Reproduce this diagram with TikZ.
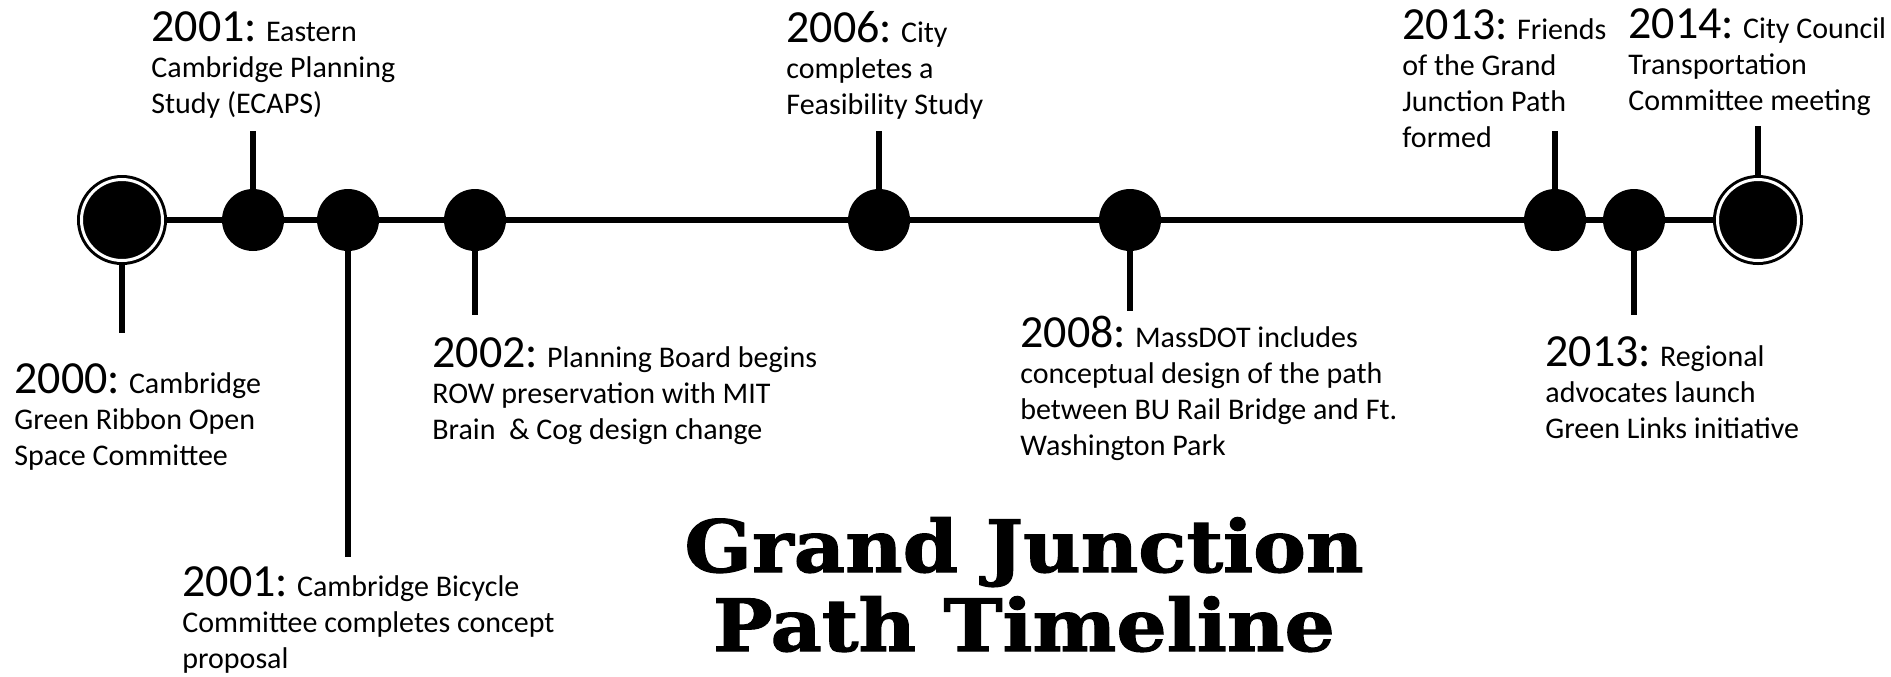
\documentclass[tikz,border=0pt]{standalone}
\usepackage{fontspec}
\setmainfont{Carlito}
\newfontfamily\titlefont[FakeStretch=1.1,FakeBold=1.6]{DejaVu Serif}
\newcommand{\yr}[1]{{\fontsize{23}{18}\selectfont #1}}

\begin{document}
\begin{tikzpicture}[x=0.5pt,y=-0.5pt,
    dot/.style={circle,fill=black,inner sep=0pt,outer sep=0pt,minimum size=31pt},
    bigdot/.style={circle,fill=black,draw=black,double=white,double distance=1.5pt,line width=1.5pt,inner sep=0pt,outer sep=2.25pt,minimum size=40.5pt},
    stem/.style={line width=3pt},
    event/.style={anchor=base west,align=left,inner sep=0pt,font=\fontsize{15}{18}\selectfont},
    title/.style={anchor=base,align=center,inner sep=0pt,font=\titlefont\bfseries\fontsize{36}{39.5}\selectfont}]
  \useasboundingbox (0,0) rectangle (1891,676);

  % events on the line
  \node[bigdot] (e2000) at (122,220) {};
  \node[dot] (e2001a) at (253,220) {};
  \node[dot] (e2001b) at (348,220) {};
  \node[dot] (e2002) at (475,220) {};
  \node[dot] (e2006) at (879,220) {};
  \node[dot] (e2008) at (1130,220) {};
  \node[dot] (e2013a) at (1555,220) {};
  \node[dot] (e2013b) at (1634,220) {};
  \node[bigdot] (e2014) at (1758,220) {};
  \draw[stem] (e2000) -- (e2001a) -- (e2001b) -- (e2002) -- (e2006) -- (e2008) -- (e2013a) -- (e2013b) -- (e2014);

  % stems
  \coordinate (s2000) at (122,333);
  \coordinate (s2001a) at (253,131);
  \coordinate (s2001b) at (348,557);
  \coordinate (s2002) at (475,315);
  \coordinate (s2006) at (879,131);
  \coordinate (s2008) at (1130,311);
  \coordinate (s2013a) at (1555,131);
  \coordinate (s2013b) at (1634,315);
  \coordinate (s2014) at (1758,126);
  \foreach \e in {2000,2001a,2001b,2002,2006,2008,2013a,2013b,2014}
    \draw[stem] (e\e) -- (s\e);

  % labels (placed at the baseline of the last line)
  \node[event] (t2000) at (14,465) {\yr{2000:} Cambridge\\Green Ribbon Open\\Space Committee};
  \node[event] (t2001a) at (151,113) {\yr{2001:} Eastern\\Cambridge Planning\\Study (ECAPS)};
  \node[event] (t2001b) at (182,668) {\yr{2001:} Cambridge Bicycle\\Committee completes concept\\proposal};
  \node[event] (t2002) at (432,439) {\yr{2002:} Planning Board begins\\ROW preservation with MIT\\Brain~ \& Cog design change};
  \node[event] (t2006) at (786,114) {\yr{2006:} City\\completes a\\Feasibility Study};
  \node[event] (t2008) at (1020,455) {\yr{2008:} MassDOT includes\\conceptual design of the path\\between BU Rail Bridge and Ft.\\Washington Park};
  \node[event] (t2013a) at (1402,147) {\yr{2013:} Friends\\of the Grand\\Junction Path\\formed};
  \node[event] (t2014) at (1628,110) {\yr{2014:} City Council\\Transportation\\Committee meeting};
  \node[event] (t2013b) at (1545,438) {\yr{2013:} Regional\\advocates launch\\Green Links initiative};

  \node[title] (title) at (1024,651) {Grand Junction\\Path Timeline};
\end{tikzpicture}
\end{document}
